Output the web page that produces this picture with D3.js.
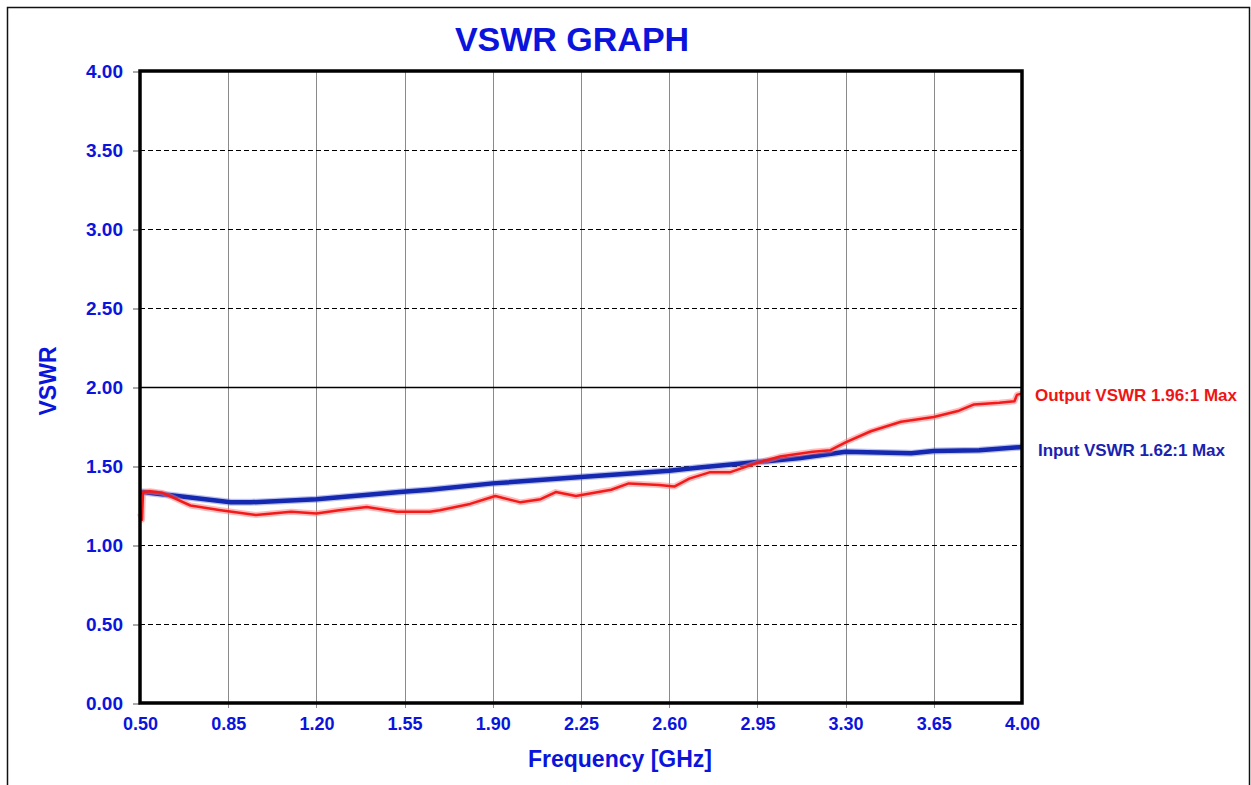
<!DOCTYPE html>
<html>
<head>
<meta charset="utf-8">
<script src="https://cdn.jsdelivr.net/npm/d3@7"></script>
<style>
  body { margin: 0; background: #fff; }
  text { font-family: "Liberation Sans", Arial, sans-serif; font-weight: bold; }
</style>
</head>
<body>
<svg width="1251" height="785"></svg>
<script>
// frequency (GHz) / VSWR
var outFreq = [0.50, 0.508, 0.512, 0.54, 0.59, 0.70, 0.82, 0.96, 1.10, 1.20, 1.29, 1.40, 1.52, 1.65, 1.69, 1.81, 1.91, 2.01, 2.09, 2.15, 2.23, 2.37, 2.44, 2.56, 2.62, 2.68, 2.76, 2.84, 2.95, 3.04, 3.17, 3.24, 3.30, 3.40, 3.52, 3.65, 3.75, 3.81, 3.91, 3.97, 3.98, 4.00];
var outVswr = [1.20, 1.16, 1.335, 1.34, 1.33, 1.25, 1.22, 1.19, 1.21, 1.20, 1.22, 1.24, 1.21, 1.21, 1.22, 1.26, 1.31, 1.27, 1.29, 1.335, 1.31, 1.35, 1.39, 1.38, 1.37, 1.42, 1.46, 1.46, 1.52, 1.56, 1.59, 1.60, 1.65, 1.72, 1.78, 1.81, 1.85, 1.89, 1.90, 1.91, 1.95, 1.96];

var inFreq = [0.50, 0.51, 0.70, 0.86, 0.94, 1.20, 1.53, 1.65, 1.90, 2.25, 2.60, 2.72, 2.95, 3.12, 3.30, 3.56, 3.65, 3.83, 4.00];
var inVswr = [1.33, 1.335, 1.30, 1.27, 1.27, 1.29, 1.335, 1.35, 1.39, 1.43, 1.47, 1.49, 1.525, 1.55, 1.59, 1.58, 1.595, 1.60, 1.62];

var xTicks = [0.50, 0.85, 1.20, 1.55, 1.90, 2.25, 2.60, 2.95, 3.30, 3.65, 4.00];
var yTicks = [0, 0.5, 1, 1.5, 2, 2.5, 3, 3.5, 4];
var limitLine = 2.0;

var svg = d3.select("svg");
var m = {left: 140, top: 71, right: 1022, bottom: 703};

var x = d3.scaleLinear().domain([0.5, 4.0]).range([m.left, m.right]);
var y = d3.scaleLinear().domain([0, 4]).range([m.bottom, m.top]);

var textBlue = "#0a14dc";

// outer frame
svg.append("rect")
    .attr("x", 7.5).attr("y", 7.5)
    .attr("width", 1242).attr("height", 820)
    .style("fill", "none").style("stroke", "#111").style("stroke-width", 1.5);

// vertical grid
svg.append("g")
    .selectAll("line")
    .data(xTicks.slice(1, -1))
    .enter().append("line")
      .attr("x1", d => Math.round(x(d)) + 0.5).attr("x2", d => Math.round(x(d)) + 0.5)
      .attr("y1", m.top).attr("y2", m.bottom + 5)
      .style("stroke", "#8a8a8a").style("stroke-width", 1);

// horizontal grid
svg.append("g")
    .selectAll("line")
    .data(yTicks.filter(d => d > 0 && d < 4))
    .enter().append("line")
      .attr("x1", m.left).attr("x2", m.right)
      .attr("y1", d => Math.round(y(d)) + 0.5).attr("y2", d => Math.round(y(d)) + 0.5)
      .style("stroke", "#000")
      .style("stroke-width", d => d === limitLine ? 1.5 : 1)
      .style("stroke-dasharray", d => d === limitLine ? null : "5,3");

// y ticks
var yAxis = svg.append("g")
    .attr("transform", "translate(" + m.left + ",0.5)")
    .call(d3.axisLeft(y).tickValues(yTicks).tickSize(7).tickPadding(10).tickFormat(d3.format(".2f")));
yAxis.select(".domain").remove();
yAxis.selectAll("line").style("stroke", "#555");
yAxis.selectAll("text")
    .style("fill", textBlue).style("font-size", "19px")
    .style("font-family", "'Liberation Sans', Arial, sans-serif").style("font-weight", "bold");

// x ticks
var xAxis = svg.append("g")
    .attr("transform", "translate(0," + m.bottom + ")")
    .call(d3.axisBottom(x).tickValues(xTicks).tickSize(0).tickPadding(14).tickFormat(d3.format(".2f")));
xAxis.select(".domain").remove();
xAxis.selectAll("text")
    .style("fill", textBlue).style("font-size", "18px")
    .style("font-family", "'Liberation Sans', Arial, sans-serif").style("font-weight", "bold");

var line = d3.line().x(d => x(d[0])).y(d => y(d[1]));

var inData = inFreq.map((f, i) => [f, inVswr[i]]);
var outData = outFreq.map((f, i) => [f, outVswr[i]]);

// input (blue)
svg.append("path").datum(inData)
    .attr("d", line)
    .style("fill", "none").style("stroke", "#5a6ad0").style("stroke-width", 7).style("opacity", 0.4)
    .style("stroke-linejoin", "round");
svg.append("path").datum(inData)
    .attr("d", line)
    .style("fill", "none").style("stroke", "#1428b0").style("stroke-width", 4.5)
    .style("stroke-linejoin", "round");

// output (red, with glow)
svg.append("path").datum(outData)
    .attr("d", line)
    .style("fill", "none").style("stroke", "#ff7a7a").style("stroke-width", 6).style("opacity", 0.5)
    .style("stroke-linejoin", "round");
svg.append("path").datum(outData)
    .attr("d", line)
    .style("fill", "none").style("stroke", "#f31a1a").style("stroke-width", 2.5)
    .style("stroke-linejoin", "round");

// plot frame
svg.append("rect")
    .attr("x", m.left).attr("y", m.top)
    .attr("width", m.right - m.left).attr("height", m.bottom - m.top)
    .style("fill", "none").style("stroke", "#000").style("stroke-width", 3.5);

// titles
svg.append("text")
    .attr("x", 572).attr("y", 51)
    .attr("text-anchor", "middle")
    .style("font-size", "34px").style("fill", textBlue)
    .text("VSWR GRAPH");

svg.append("text")
    .attr("transform", "translate(56,381) rotate(-90)")
    .attr("text-anchor", "middle")
    .style("font-size", "23px").style("fill", textBlue)
    .text("VSWR");

svg.append("text")
    .attr("x", 620).attr("y", 767)
    .attr("text-anchor", "middle")
    .style("font-size", "23px").style("fill", textBlue)
    .text("Frequency [GHz]");

// series labels
svg.append("text")
    .attr("x", 1035).attr("y", 401)
    .style("font-size", "17px").style("fill", "#f01414")
    .attr("textLength", 202)
    .text("Output VSWR 1.96:1 Max");

svg.append("text")
    .attr("x", 1038).attr("y", 456)
    .style("font-size", "17px").style("fill", "#1a22b0")
    .attr("textLength", 187)
    .text("Input VSWR 1.62:1 Max");
</script>
</body>
</html>
